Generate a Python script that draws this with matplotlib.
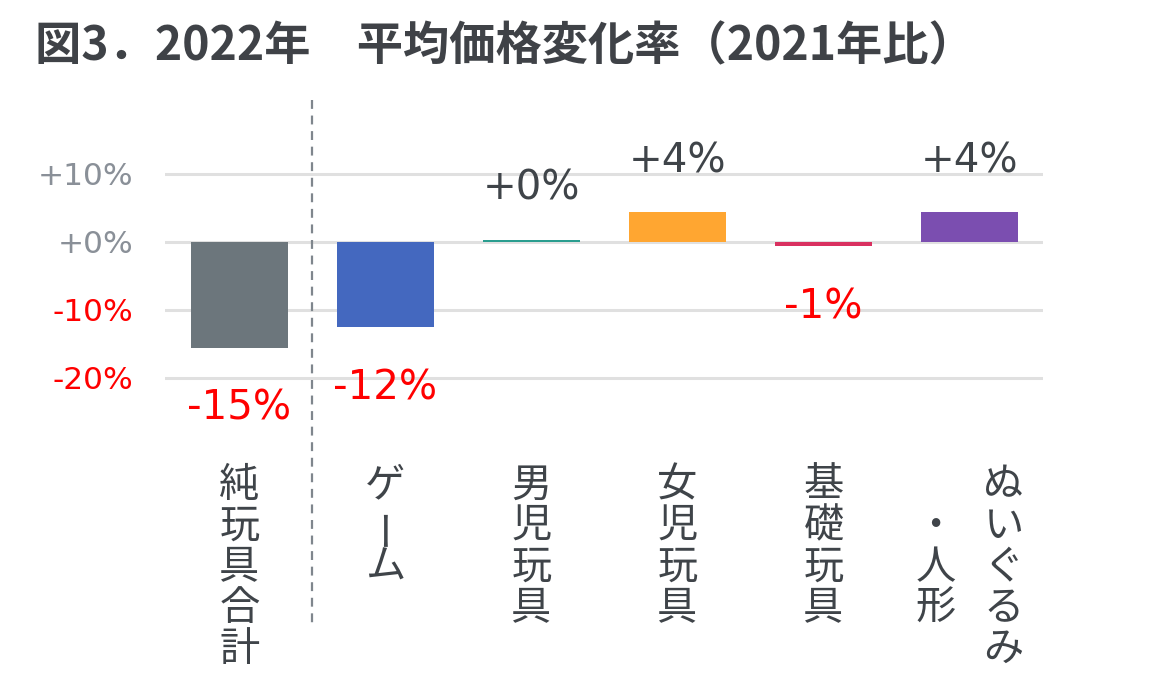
import matplotlib
matplotlib.use("Agg")
import matplotlib.pyplot as plt
from matplotlib.transforms import blended_transform_factory

# ---- data ----
categories = ["純玩具合計", "ゲーム", "男児玩具", "女児玩具", "基礎玩具", "ぬいぐるみ\n・人形"]
values = [-15.6, -12.6, 0.3, 4.3, -0.7, 4.3]
value_labels = ["-15%", "-12%", "+0%", "+4%", "-1%", "+4%"]
bar_colors = ["#6C767C", "#4468BF", "#2A9D8F", "#FFA631", "#D93160", "#7B4EB0"]
yticks = [-20, -10, 0, 10]
ytick_labels = ["-20%", "-10%", "+0%", "+10%"]
title = "図3．2022年　平均価格変化率（2021年比）"

W, H = 1169, 676
DPI = 100
CJK = ["Noto Sans CJK JP", "DejaVu Sans"]
DARK = "#3F4449"
RED = "#FF0000"
GRAY = "#8A9098"

fig = plt.figure(figsize=(W / DPI, H / DPI), dpi=DPI)
fig.patch.set_facecolor("white")

# axes placed by pixel geometry
ax_l, ax_r, ax_t, ax_b = 165, 1043, 100, 400
ax = fig.add_axes([ax_l / W, 1 - ax_b / H, (ax_r - ax_l) / W, (ax_b - ax_t) / H])
px_per_unit = 6.8
zero_px = 241.7
ax.set_ylim(-(ax_b - zero_px) / px_per_unit, (zero_px - ax_t) / px_per_unit)
ax.set_xlim(-0.51, len(categories) - 1 + 0.503)

x = list(range(len(categories)))
ax.bar(x, values, width=0.664, color=bar_colors, zorder=3)

for s in ax.spines.values():
    s.set_visible(False)
ax.set_xticks([])
ax.set_yticks(yticks)
ax.set_yticklabels(ytick_labels, fontsize=22.5, family="DejaVu Sans")
for lab, v in zip(ax.get_yticklabels(), yticks):
    lab.set_color(RED if v < 0 else GRAY)
ax.tick_params(axis="y", length=0, pad=23)
ax.grid(axis="y", color="#E0E0E0", linewidth=2.2, zorder=0)
ax.set_axisbelow(True)

# value labels
for xi, v, lab in zip(x, values, value_labels):
    if v >= 0:
        ax.annotate(lab, (xi, v), xytext=(0, 37), textcoords="offset points",
                    ha="center", va="center", fontsize=29, color=DARK, family="DejaVu Sans")
    else:
        ax.annotate(lab, (xi, v), xytext=(0, -44), textcoords="offset points",
                    ha="center", va="center", fontsize=29, color=RED, family="DejaVu Sans")

# dashed separator
tr = blended_transform_factory(ax.transData, ax.transAxes)
ax.plot([0.5, 0.5], [1.0, (ax_b - 625) / (ax_b - ax_t)], transform=tr,
        color="#7F868D", linewidth=1.6, linestyle=(0, (4, 3)), clip_on=False, zorder=4)

# vertical (tategaki) category labels
trl = blended_transform_factory(ax.transData, fig.transFigure)
pitch = 41.2
first_center = 485
col_off = 34 / 146
for xi, cat in zip(x, categories):
    cols = cat.split("\n")
    n = len(cols)
    maxlen = max(len(c) for c in cols)
    for ci, col in enumerate(cols):
        cx = xi + (((n - 1) / 2) - ci) * 2 * col_off if n > 1 else xi
        start = (maxlen - len(col)) / 2
        for k, ch in enumerate(col):
            ypx = first_center + (start + k) * pitch
            rot = 90 if ch == "ー" else 0
            ax.text(cx, 1 - ypx / H, ch, transform=trl, ha="center", va="center",
                    fontsize=29, color=DARK, family=CJK, rotation=rot,
                    rotation_mode="anchor")

# title
fig.text(35 / W, 1 - 46 / H, title, ha="left", va="center", fontsize=33.3,
         fontweight="bold", color="#3F4247", family=CJK)

fig.savefig("out.png", dpi=DPI, facecolor="white")
